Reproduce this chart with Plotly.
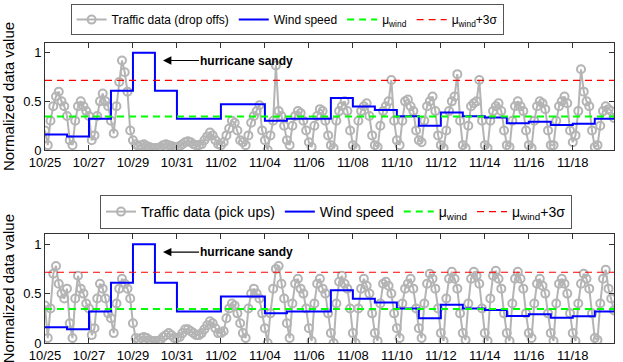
import pandas as pd
import plotly.graph_objects as go
from plotly.subplots import make_subplots

# daily wind speed (normalized), 10/25 .. 11/19
days = pd.date_range("2012-10-25", periods=26, freq="D")
wind = [0.16, 0.14, 0.32, 0.61, 1.00, 0.61, 0.32, 0.32, 0.47, 0.47, 0.30, 0.32, 0.32,
        0.535, 0.447, 0.41, 0.348, 0.25, 0.386, 0.348, 0.334, 0.274, 0.29, 0.256, 0.27, 0.32]
wind_mean = 0.345
wind_mean_3sd = 0.716

# traffic, one row per day, samples every 3 hours
hours = pd.date_range("2012-10-25", periods=26 * 8, freq="3h")
dropoffs = [
    [0.20, 0.05, 0.30, 0.45, 0.55, 0.60, 0.50, 0.45],
    [0.35, 0.10, 0.05, 0.30, 0.45, 0.50, 0.45, 0.40],
    [0.35, 0.10, 0.15, 0.35, 0.50, 0.58, 0.50, 0.45],
    [0.30, 0.17, 0.45, 0.70, 0.92, 0.80, 0.60, 0.20],
    [0.10, 0.06, 0.04, 0.05, 0.06, 0.04, 0.03, 0.02],
    [0.02, 0.02, 0.03, 0.05, 0.06, 0.05, 0.04, 0.03],
    [0.03, 0.04, 0.06, 0.08, 0.09, 0.08, 0.06, 0.05],
    [0.05, 0.06, 0.10, 0.14, 0.18, 0.15, 0.10, 0.06],
    [0.05, 0.08, 0.15, 0.22, 0.30, 0.28, 0.20, 0.10],
    [0.08, 0.05, 0.15, 0.28, 0.35, 0.40, 0.46, 0.20],
    [0.10, 0.00, 0.15, 0.30, 0.87, 0.40, 0.35, 0.25],
    [0.10, 0.05, 0.25, 0.35, 0.40, 0.38, 0.30, 0.20],
    [0.08, 0.03, 0.25, 0.35, 0.42, 0.40, 0.30, 0.15],
    [0.05, 0.02, 0.30, 0.40, 0.45, 0.50, 0.40, 0.20],
    [0.05, 0.02, 0.30, 0.40, 0.45, 0.48, 0.35, 0.15],
    [0.05, 0.03, 0.25, 0.40, 0.45, 0.50, 0.72, 0.30],
    [0.10, 0.05, 0.30, 0.50, 0.52, 0.45, 0.40, 0.20],
    [0.10, 0.08, 0.30, 0.45, 0.50, 0.55, 0.40, 0.15],
    [0.05, 0.02, 0.20, 0.40, 0.50, 0.55, 0.78, 0.30],
    [0.05, 0.02, 0.25, 0.45, 0.48, 0.50, 0.72, 0.30],
    [0.05, 0.02, 0.30, 0.40, 0.45, 0.48, 0.40, 0.20],
    [0.05, 0.03, 0.30, 0.45, 0.50, 0.45, 0.40, 0.20],
    [0.05, 0.02, 0.30, 0.45, 0.50, 0.48, 0.42, 0.20],
    [0.05, 0.05, 0.30, 0.45, 0.50, 0.55, 0.48, 0.20],
    [0.08, 0.15, 0.40, 0.83, 0.60, 0.50, 0.45, 0.20],
    [0.03, 0.05, 0.25, 0.40, 0.45, 0.42, 0.40, 0.33],
]
pickups = [
    [0.38, 0.05, 0.35, 0.70, 0.78, 0.60, 0.50, 0.45],
    [0.55, 0.20, 0.05, 0.45, 0.68, 0.55, 0.50, 0.40],
    [0.35, 0.08, 0.15, 0.45, 0.60, 0.55, 0.45, 0.30],
    [0.25, 0.10, 0.40, 0.55, 0.65, 0.60, 0.55, 0.45],
    [0.20, 0.05, 0.03, 0.05, 0.06, 0.05, 0.03, 0.02],
    [0.02, 0.02, 0.03, 0.06, 0.08, 0.10, 0.08, 0.05],
    [0.05, 0.06, 0.10, 0.14, 0.14, 0.12, 0.10, 0.08],
    [0.08, 0.10, 0.14, 0.18, 0.22, 0.20, 0.15, 0.10],
    [0.10, 0.12, 0.25, 0.35, 0.40, 0.38, 0.30, 0.20],
    [0.10, 0.05, 0.35, 0.50, 0.55, 0.50, 0.45, 0.30],
    [0.15, 0.00, 0.30, 0.55, 0.75, 0.78, 0.60, 0.45],
    [0.20, 0.05, 0.40, 0.60, 0.65, 0.55, 0.50, 0.35],
    [0.15, 0.02, 0.40, 0.60, 0.65, 0.55, 0.50, 0.30],
    [0.10, 0.00, 0.40, 0.62, 0.68, 0.60, 0.55, 0.35],
    [0.10, 0.00, 0.35, 0.55, 0.65, 0.58, 0.50, 0.30],
    [0.10, 0.02, 0.40, 0.60, 0.62, 0.58, 0.50, 0.30],
    [0.15, 0.05, 0.40, 0.55, 0.60, 0.65, 0.55, 0.35],
    [0.15, 0.05, 0.40, 0.60, 0.70, 0.65, 0.55, 0.35],
    [0.10, 0.02, 0.45, 0.65, 0.72, 0.65, 0.55, 0.30],
    [0.10, 0.03, 0.40, 0.65, 0.72, 0.68, 0.60, 0.35],
    [0.10, 0.02, 0.45, 0.68, 0.73, 0.65, 0.55, 0.30],
    [0.10, 0.02, 0.40, 0.65, 0.72, 0.65, 0.55, 0.30],
    [0.10, 0.05, 0.40, 0.60, 0.65, 0.58, 0.50, 0.30],
    [0.10, 0.02, 0.40, 0.60, 0.65, 0.60, 0.50, 0.30],
    [0.10, 0.02, 0.40, 0.60, 0.70, 0.65, 0.55, 0.30],
    [0.05, 0.03, 0.40, 0.65, 0.74, 0.55, 0.45, 0.33],
]
panel_names = ["Traffic data (drop offs)", "Traffic data (pick ups)"]
sandy_x = "2012-10-30 08:45"
sandy_y = 0.92

font = "Liberation Sans, Arial, sans-serif"
gray = "#b4b4b4"

fig = make_subplots(rows=2, cols=1)

wind_x = list(days) + [hours[-1]]
wind_y = wind + [wind[-1]]
line_x = [hours[0], hours[-1]]

for i, traffic in enumerate([dropoffs, pickups]):
    row = i + 1
    leg = "legend" if i == 0 else "legend2"
    vals = [v for day in traffic for v in day]
    fig.add_trace(go.Scatter(x=hours, y=vals, mode="lines+markers", name=panel_names[i],
                             line=dict(color=gray, width=2),
                             marker=dict(symbol="circle-open", size=8, color=gray,
                                         line=dict(width=2, color=gray)),
                             legend=leg), row=row, col=1)
    fig.add_trace(go.Scatter(x=wind_x, y=wind_y, mode="lines", line_shape="hv",
                             name="Wind speed", line=dict(color="#0000ff", width=2),
                             legend=leg), row=row, col=1)
    fig.add_trace(go.Scatter(x=line_x, y=[wind_mean] * 2, mode="lines",
                             name="\u03bc<sub>wind</sub>",
                             line=dict(color="#00ff00", width=2, dash="7px,5px"),
                             legend=leg), row=row, col=1)
    fig.add_trace(go.Scatter(x=line_x, y=[wind_mean_3sd] * 2, mode="lines",
                             name="\u03bc<sub>wind</sub>+3\u03c3",
                             line=dict(color="#ff0000", width=1.2, dash="7px,5px"),
                             legend=leg), row=row, col=1)
    xa = "x" if i == 0 else "x2"
    ya = "y" if i == 0 else "y2"
    fig.add_annotation(x=sandy_x, y=sandy_y, xref=xa, yref=ya, text="hurricane sandy",
                       showarrow=True, ax=84, ay=0, arrowhead=2, arrowsize=1.4,
                       arrowwidth=1.2, arrowcolor="black",
                       font=dict(family=font, size=12, color="black", weight="bold"))

axis_style = dict(showline=True, linecolor="#333333", linewidth=1, mirror="ticks",
                  ticks="inside", ticklen=5, tickcolor="#333333", showgrid=False,
                  zeroline=False, automargin=False,
                  tickfont=dict(family=font, size=13, color="black"))

fig.update_xaxes(range=line_x, tickformat="%m/%d", dtick=2 * 86400000,
                 tick0="2012-10-25", **axis_style)
fig.update_yaxes(range=[0, 1.1], tickvals=[0, 0.5, 1], ticktext=["0", "0.5", "1"],
                 title=dict(text="Normalized data value", standoff=5,
                            font=dict(family=font, size=15, color="black")),
                 **axis_style)

legend_style = dict(orientation="h", xanchor="left", yanchor="top", bgcolor="white",
                    bordercolor="#555555", borderwidth=1, itemwidth=30,
                    tracegroupgap=0)

fig.update_layout(
    width=623, height=362,
    margin=dict(l=45, r=9, t=0, b=19, autoexpand=False),
    plot_bgcolor="white", paper_bgcolor="white",
    showlegend=True,
    xaxis=dict(domain=[0, 1]),
    xaxis2=dict(domain=[0, 1]),
    yaxis=dict(domain=[0.5627, 0.8746]),
    yaxis2=dict(domain=[0.0, 0.3169]),
    legend=dict(x=0.045, y=0.988, font=dict(family=font, size=12, color="black"),
                **legend_style),
    legend2=dict(x=0.0967, y=0.4315, font=dict(family=font, size=14, color="black"),
                 **legend_style),
)

fig.write_html("out.html", config={"displayModeBar": False},
               post_script="document.body.style.margin = '0';")
